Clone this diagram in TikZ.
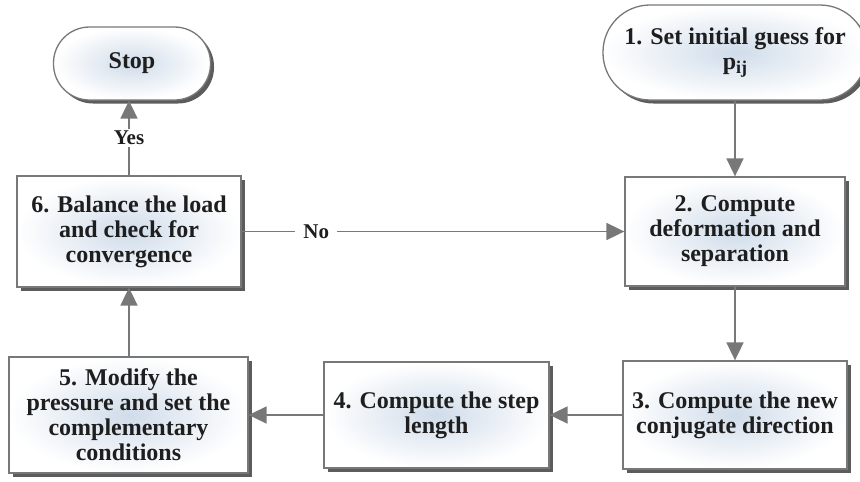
\documentclass[tikz,border=0pt]{standalone}
\usepackage{fontspec}
\setmainfont{Liberation Serif}
\usetikzlibrary{arrows.meta,shadows}
\definecolor{txt}{RGB}{30,30,30}
\definecolor{edgec}{RGB}{120,120,120}
\definecolor{bord}{RGB}{120,120,120}
\definecolor{innerc}{RGB}{208,220,234}
\begin{document}
\begin{tikzpicture}[x=1pt,y=-1pt,
  box/.style={draw=bord, line width=1.3pt, shade, inner color=innerc, outer color=white,
    drop shadow={shadow xshift=3.5pt, shadow yshift=-3.5pt, fill=black!85, opacity=0.75},
    font=\fontsize{24}{25}\selectfont\bfseries, text=txt, align=center, inner sep=0pt},
  arr/.style={draw=edgec, line width=1.8pt, -{Triangle[length=18pt,width=17pt]}},
  lab/.style={fill=white, font=\fontsize{21}{21}\selectfont\bfseries, text=txt, inner xsep=8pt, inner ysep=2pt}]
\useasboundingbox (0,0) rectangle (860,482);
\node[box, minimum width=157pt, minimum height=73pt, rounded corners=36pt] (stop) at (132,63.5) {Stop};
\node[box, minimum width=264pt, minimum height=95pt, rounded corners=47pt] (n1) at (735,52.5)
  {1. Set initial guess for\\p\raisebox{-0.4ex}{\fontsize{18}{18}\selectfont ij}};
\node[box, minimum width=220pt, minimum height=109pt] (n2) at (735,231.5)
  {2. Compute\\deformation and\\separation};
\node[box, minimum width=224pt, minimum height=108pt] (n3) at (735,415)
  {3. Compute the new\\conjugate direction};
\node[box, minimum width=225pt, minimum height=106pt] (n4) at (436.5,415)
  {4. Compute the step\\length};
\node[box, minimum width=239pt, minimum height=116pt] (n5) at (128.5,415)
  {5. Modify the\\pressure and set the\\complementary\\conditions};
\node[box, minimum width=224pt, minimum height=111pt] (n6) at (129,231.5)
  {6. Balance the load\\and check for\\convergence};
\draw[arr] (n1) -- (n2);
\draw[arr] (n2) -- (n3);
\draw[arr] (n3) -- (n4);
\draw[arr] (n4) -- (n5);
\draw[arr] (n5.north -| n6) -- (n6);
\draw[arr] (n6) -- node[lab, pos=0.195]{No} (n2);
\draw[arr] (n6.north) -- node[lab, midway]{Yes} (n6.north |- stop.south);
\end{tikzpicture}
\end{document}
